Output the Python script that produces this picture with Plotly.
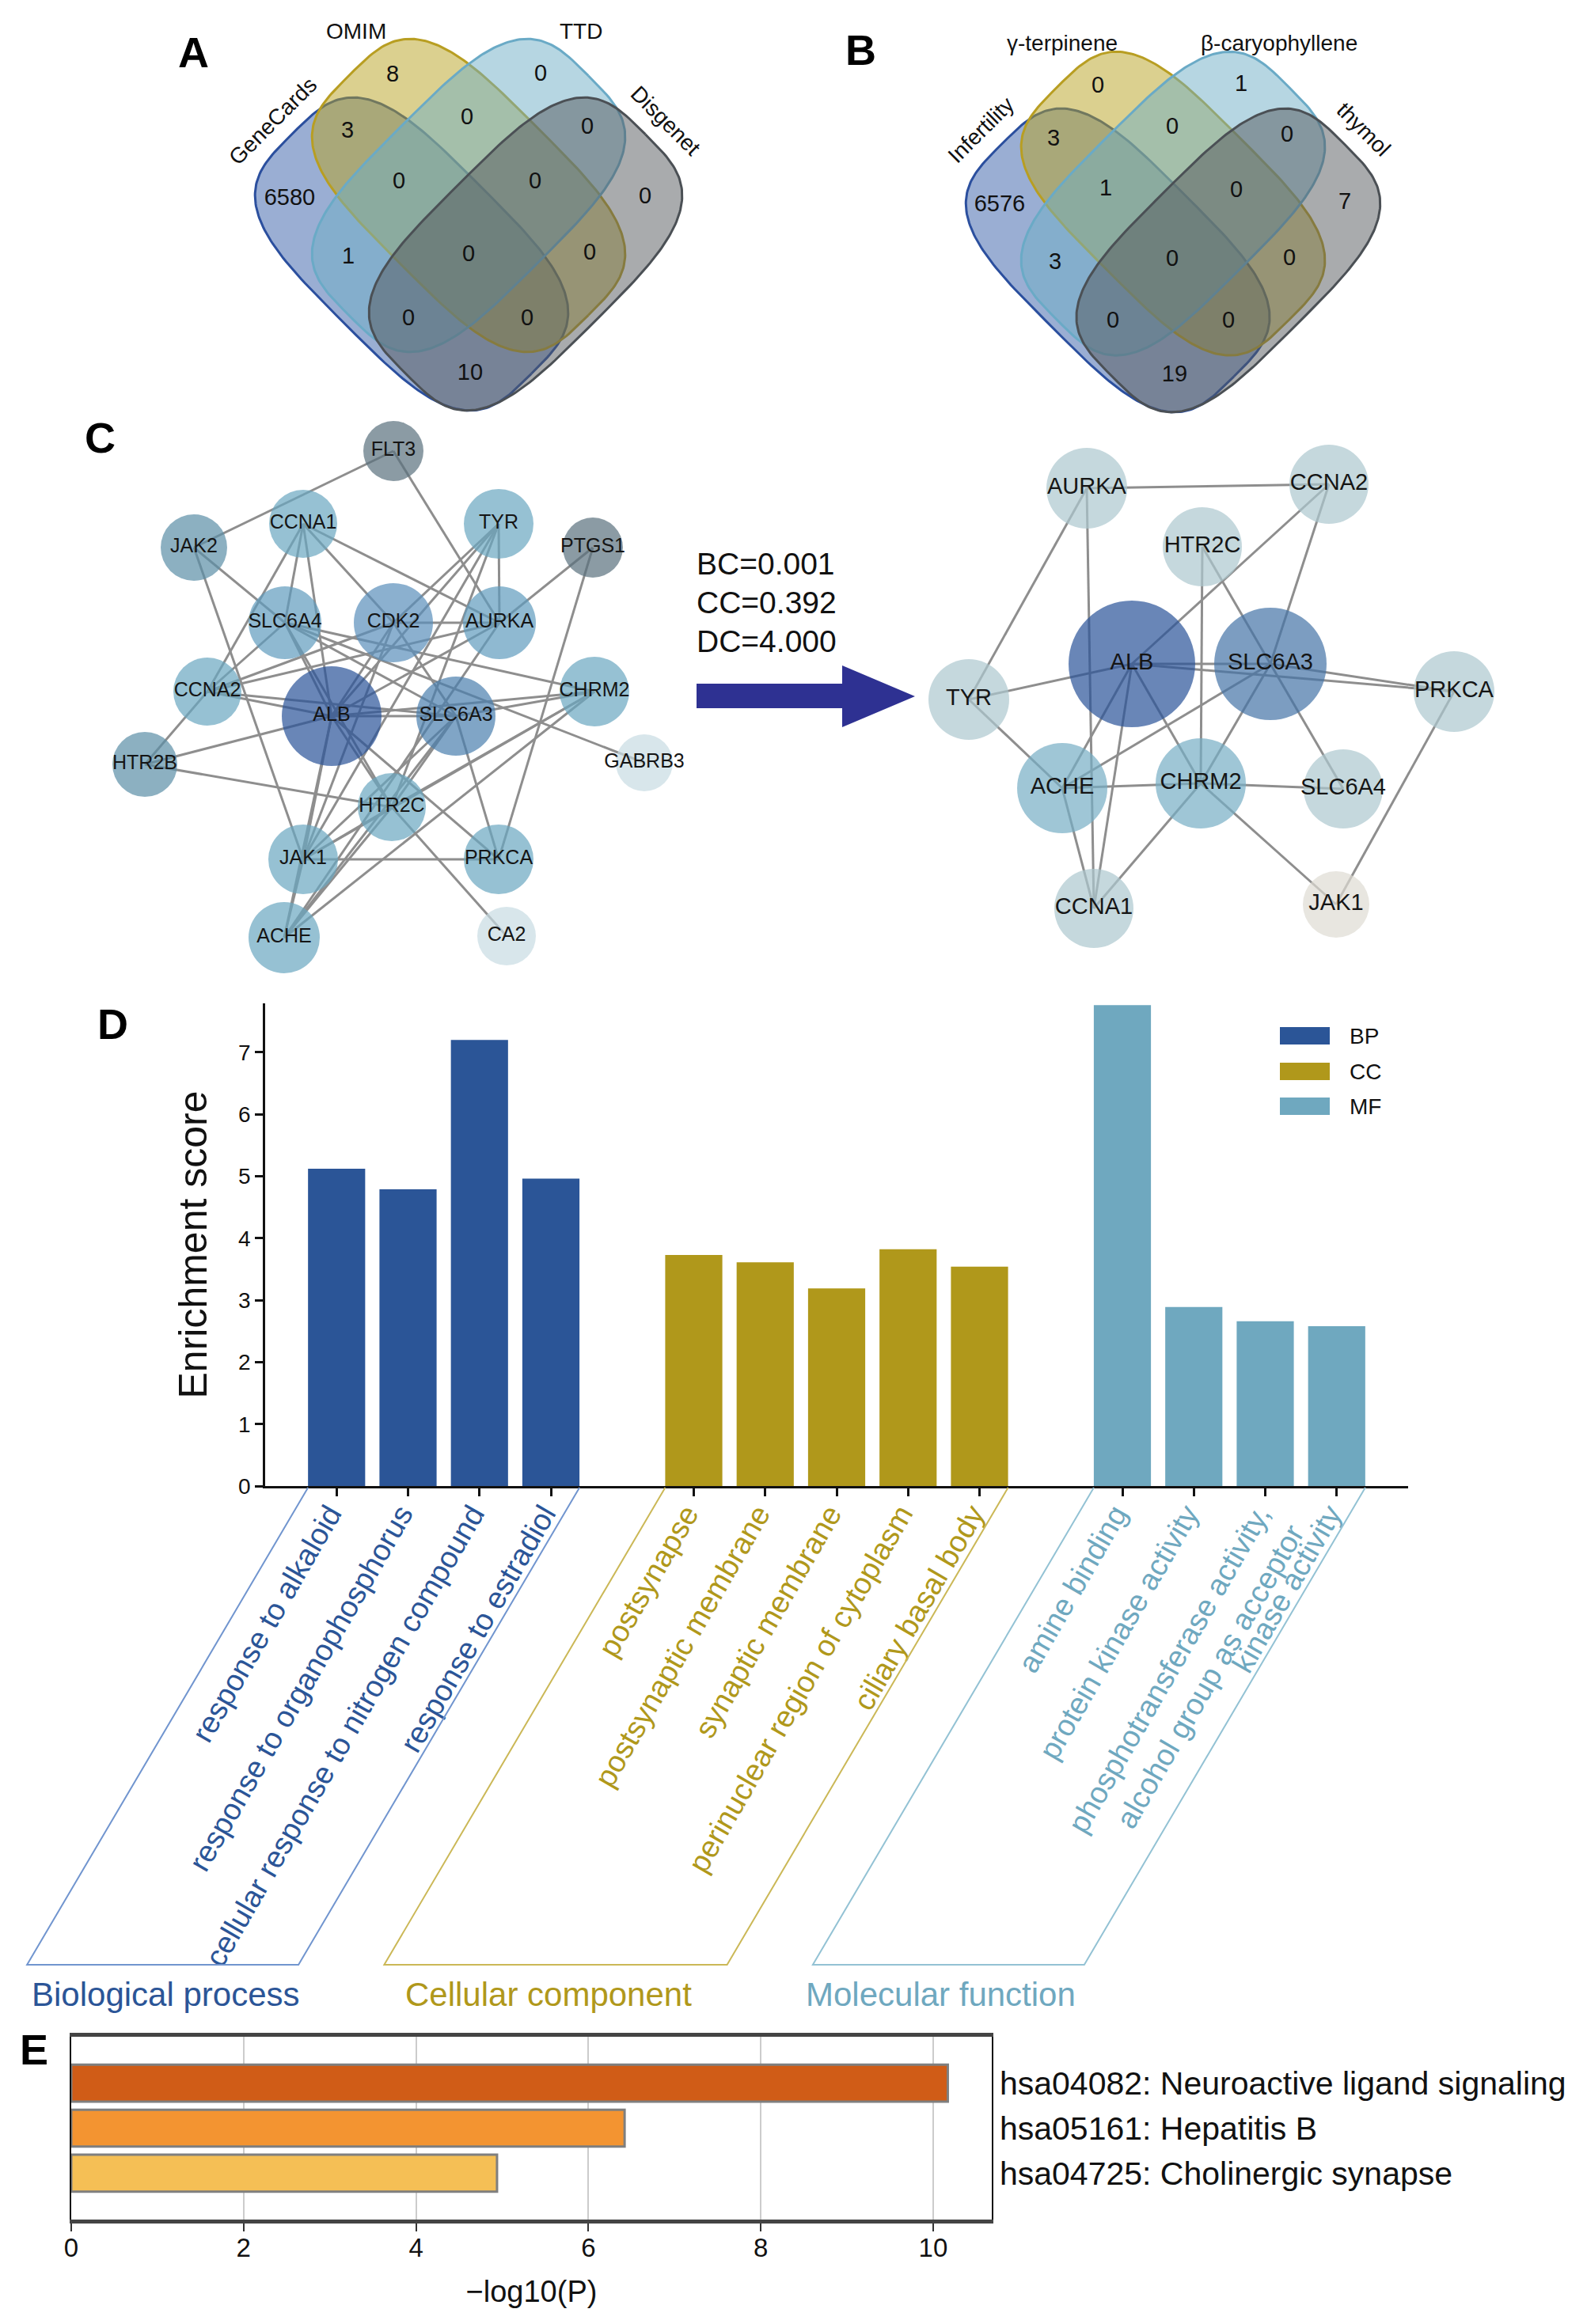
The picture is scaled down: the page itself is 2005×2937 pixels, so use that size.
import numpy as np
import plotly.graph_objects as go

W, H = 2005, 2937
FONT = "Liberation Sans, Arial, Helvetica, sans-serif"

# ======================= DATA =======================
# Panel A / B : Venn diagrams (region counts, same region order for both)
venn_regions = ["2 only", "3 only", "1&2", "2&3", "3&4", "1 only", "1&2&3", "2&3&4",
                "4 only", "1&3", "1&2&3&4", "2&4", "1&3&4", "1&2&4", "1&4"]
venn_a_sets = ["GeneCards", "OMIM", "TTD", "Disgenet"]
venn_a_counts = [8, 0, 3, 0, 0, 6580, 0, 0, 0, 1, 0, 0, 0, 0, 10]
venn_b_sets = ["Infertility", "γ-terpinene", "β-caryophyllene", "thymol"]
venn_b_counts = [0, 1, 3, 0, 0, 6576, 1, 0, 7, 3, 0, 0, 0, 0, 19]

# Panel C : PPI network and core network
ppi_nodes = ["FLT3", "CCNA1", "JAK2", "TYR", "PTGS1", "SLC6A4", "CDK2", "AURKA", "CCNA2",
             "ALB", "SLC6A3", "CHRM2", "HTR2B", "GABRB3", "HTR2C", "JAK1", "PRKCA", "ACHE", "CA2"]
ppi_edges = [("FLT3", "JAK2"), ("FLT3", "AURKA"), ("JAK2", "SLC6A4"), ("JAK2", "JAK1"),
             ("CCNA1", "SLC6A4"), ("CCNA1", "CDK2"), ("CCNA1", "AURKA"), ("CCNA1", "CCNA2"),
             ("CCNA1", "ALB"), ("TYR", "AURKA"), ("TYR", "CDK2"), ("TYR", "ALB"), ("TYR", "HTR2C"),
             ("TYR", "JAK1"), ("PTGS1", "AURKA"), ("PTGS1", "PRKCA"), ("SLC6A4", "CCNA2"),
             ("SLC6A4", "ALB"), ("SLC6A4", "SLC6A3"), ("SLC6A4", "CHRM2"), ("SLC6A4", "GABRB3"),
             ("SLC6A4", "HTR2C"), ("CDK2", "AURKA"), ("CDK2", "CCNA2"), ("CDK2", "ALB"),
             ("CDK2", "JAK1"), ("CDK2", "SLC6A3"), ("AURKA", "CCNA2"), ("AURKA", "ALB"),
             ("AURKA", "ACHE"), ("CCNA2", "ALB"), ("CCNA2", "HTR2B"), ("CCNA2", "SLC6A3"),
             ("ALB", "SLC6A3"), ("ALB", "HTR2B"), ("ALB", "JAK1"), ("ALB", "HTR2C"),
             ("ALB", "PRKCA"), ("ALB", "ACHE"), ("ALB", "CHRM2"), ("SLC6A3", "CHRM2"),
             ("SLC6A3", "PRKCA"), ("SLC6A3", "HTR2C"), ("SLC6A3", "JAK1"), ("SLC6A3", "ACHE"),
             ("CHRM2", "HTR2C"), ("CHRM2", "ACHE"), ("CHRM2", "JAK1"), ("HTR2B", "HTR2C"),
             ("HTR2C", "CA2"), ("HTR2C", "JAK1"), ("HTR2C", "ACHE"), ("JAK1", "PRKCA"),
             ("JAK1", "ACHE")]
core_nodes = ["AURKA", "CCNA2", "HTR2C", "ALB", "SLC6A3", "TYR", "PRKCA", "ACHE", "CHRM2",
              "SLC6A4", "CCNA1", "JAK1"]
core_edges = [("AURKA", "CCNA2"), ("AURKA", "TYR"), ("AURKA", "CCNA1"), ("CCNA2", "ALB"),
              ("CCNA2", "SLC6A3"), ("HTR2C", "CHRM2"), ("HTR2C", "SLC6A3"), ("ALB", "TYR"),
              ("ALB", "SLC6A3"), ("ALB", "CHRM2"), ("ALB", "CCNA1"), ("ALB", "ACHE"),
              ("ALB", "PRKCA"), ("SLC6A3", "PRKCA"), ("SLC6A3", "ACHE"), ("SLC6A3", "CHRM2"),
              ("SLC6A3", "SLC6A4"), ("TYR", "ACHE"), ("ACHE", "CHRM2"), ("CHRM2", "SLC6A4"),
              ("CHRM2", "CCNA1"), ("CHRM2", "JAK1"), ("PRKCA", "JAK1"), ("ACHE", "CCNA1")]
core_metrics = ["BC=0.001", "CC=0.392", "DC=4.000"]

# Panel D : GO enrichment
bp_terms = ["response to alkaloid", "response to organophosphorus",
            "cellular response to nitrogen compound", "response to estradiol"]
bp_scores = [5.12, 4.79, 7.20, 4.96]
cc_terms = ["postsynapse", "postsynaptic membrane", "synaptic membrane",
            "perinuclear region of cytoplasm", "ciliary basal body"]
cc_scores = [3.73, 3.61, 3.19, 3.82, 3.54]
mf_terms = ["amine binding", "protein kinase activity",
            "phosphotransferase activity,|alcohol group as acceptor", "kinase activity"]
mf_scores = [7.76, 2.89, 2.66, 2.58]
go_groups = ["BP", "CC", "MF"]
go_group_names = ["Biological process", "Cellular component", "Molecular function"]
go_ticks = [0, 1, 2, 3, 4, 5, 6, 7]

# Panel E : KEGG
kegg_terms = ["hsa04082: Neuroactive ligand signaling", "hsa05161: Hepatitis B",
              "hsa04725: Cholinergic synapse"]
kegg_scores = [10.17, 6.42, 4.94]
kegg_ticks = [0, 2, 4, 6, 8, 10]

# ======================= LAYOUT (pixel positions / styles) =======================
venn_shape_local = [(-72, -1, 45), (0, -75, 45), (0, -75, -45), (72, -1, -45)]
venn_fill = ["rgba(53,93,167,0.5)", "rgba(183,161,31,0.5)", "rgba(109,173,197,0.5)",
             "rgba(83,87,91,0.5)"]
venn_line = ["#2b4f9e", "#b89e22", "#6aaac6", "#4b5055"]
venn_a_origin, venn_a_scale = (592, 322), 1.0
venn_b_origin, venn_b_scale = (1482, 330), 0.97
venn_a_num_pos = [(496, 96), (683, 95), (439, 167), (590, 150), (742, 162), (366, 252),
                  (504, 231), (676, 231), (815, 250), (440, 326), (592, 323), (745, 321),
                  (516, 404), (666, 404), (594, 473)]
venn_b_num_pos = [(1387, 110), (1568, 108), (1331, 177), (1481, 162), (1626, 172),
                  (1263, 260), (1397, 240), (1562, 242), (1699, 257), (1333, 333),
                  (1481, 329), (1629, 328), (1406, 407), (1552, 407), (1484, 475)]
venn_a_label_pos = [(344, 153, -45), (450, 39, 0), (734, 39, 0), (841, 152, 45)]
venn_b_label_pos = [(1239, 164, -45), (1342, 54, 0), (1616, 54, 0), (1723, 163, 45)]

ppi_x = [497, 383, 245, 630, 749, 360, 497, 631, 262, 419, 576, 751, 183, 814, 495, 383, 630, 359, 640]
ppi_y = [570, 662, 692, 662, 692, 787, 787, 787, 874, 905, 905, 874, 966, 964, 1020, 1086, 1086, 1185, 1183]
ppi_r = [38, 43, 42, 44, 38, 46, 50, 46, 43, 63, 50, 44, 41, 36, 43, 44, 44, 45, 37]
ppi_col = ["#5a707d", "#69a7c1", "#5b8fa6", "#69a7c1", "#5a707d", "#5f9bbd", "#5a8fba",
           "#5f9bbd", "#69a7c1", "#2a5398", "#4a7fae", "#69a7c1", "#5b8fa6", "#c7dbe2",
           "#69a7c1", "#69a7c1", "#69a7c1", "#69a7c1", "#c7dbe2"]
core_x = [1373, 1679, 1519, 1430, 1605, 1224, 1837, 1342, 1517, 1697, 1382, 1688]
core_y = [617, 612, 691, 839, 839, 884, 874, 996, 990, 997, 1148, 1143]
core_r = [51, 50, 50, 80, 71, 51, 51, 57, 57, 50, 50, 42]
core_col = ["#adc8cf", "#adc8cf", "#adc8cf", "#2a5398", "#4573a7", "#adc8cf", "#adc8cf",
            "#76aec4", "#76aec4", "#adc8cf", "#adc8cf", "#dedbd3"]
arrow_poly = [(880, 864), (1064, 864), (1064, 841), (1156, 880), (1064, 919), (1064, 895), (880, 895)]
metric_pos = [(878, 712), (878, 761), (878, 810)]

grp_col = ["#2b5597", "#b0981b", "#6fa8bf"]
grp_line = ["#7195cf", "#cbb857", "#93c2d4"]
bp_x = [1, 2, 3, 4]
cc_x = [6, 7, 8, 9, 10]
mf_x = [12, 13, 14, 15]
D_X0, D_X1, D_Y0, D_Y1 = 335, 1779, 1268, 1878   # pixel box of GO axes
D_XR = [0, 16]
D_YR = [0, 7.79]
E_X0, E_X1, E_Y0, E_Y1 = 90, 1253, 2574, 2805
E_XR = [0, 10.68]
kegg_col = ["#d05c17", "#f39431", "#f5bf55"]


def blob(cx, cy, ang, s=1.0, a=214, b=122, n=3.5, N=240):
    t = np.linspace(0, 2 * np.pi, N)
    c, si = np.cos(t), np.sin(t)
    x = a * np.sign(c) * np.abs(c) ** (2 / n)
    y = b * np.sign(si) * np.abs(si) ** (2 / n)
    th = np.deg2rad(ang)
    return cx + s * (x * np.cos(th) - y * np.sin(th)), cy + s * (x * np.sin(th) + y * np.cos(th))


fig = go.Figure()
ann = []
shapes = []

# ---------------- Venn diagrams ----------------
for origin, sc, counts, npos, sets, lpos in [
        (venn_a_origin, venn_a_scale, venn_a_counts, venn_a_num_pos, venn_a_sets, venn_a_label_pos),
        (venn_b_origin, venn_b_scale, venn_b_counts, venn_b_num_pos, venn_b_sets, venn_b_label_pos)]:
    for k, (dx, dy, ang) in enumerate(venn_shape_local):
        X, Y = blob(origin[0] + sc * dx, origin[1] + sc * dy, ang, sc)
        fig.add_trace(go.Scatter(x=X, y=Y, mode="lines", fill="toself",
                                 fillcolor=venn_fill[k], line=dict(color=venn_line[k], width=3),
                                 hoverinfo="skip", xaxis="x", yaxis="y"))
    fig.add_trace(go.Scatter(x=[p[0] for p in npos], y=[p[1] for p in npos], mode="text",
                             text=[str(v) for v in counts],
                             textfont=dict(family=FONT, size=29, color="#111111"),
                             hoverinfo="skip", xaxis="x", yaxis="y"))
    for name, (lx, ly, la) in zip(sets, lpos):
        ann.append(dict(x=lx, y=ly, xref="x", yref="y", text=name, showarrow=False,
                        textangle=la, font=dict(family=FONT, size=28, color="#111111"),
                        xanchor="center", yanchor="middle"))

# ---------------- Networks ----------------
def add_network(nodes, edges, xs, ys, rs, cols, fsize):
    idx = {n: i for i, n in enumerate(nodes)}
    ex, ey = [], []
    for a, b in edges:
        ex += [xs[idx[a]], xs[idx[b]], None]
        ey += [ys[idx[a]], ys[idx[b]], None]
    fig.add_trace(go.Scatter(x=ex, y=ey, mode="lines", line=dict(color="#8e8e8e", width=3),
                             hoverinfo="skip", xaxis="x", yaxis="y"))
    fig.add_trace(go.Scatter(x=xs, y=ys, mode="markers+text", text=nodes,
                             textposition="middle center",
                             textfont=dict(family=FONT, size=fsize, color="#151515"),
                             marker=dict(size=[2 * r for r in rs], color=cols,
                                         line=dict(width=0)),
                             hoverinfo="skip", xaxis="x", yaxis="y"))


add_network(ppi_nodes, ppi_edges, ppi_x, ppi_y, ppi_r, ppi_col, 25)
add_network(core_nodes, core_edges, core_x, core_y, core_r, core_col, 29)

path = "M " + " L ".join(f"{x},{y}" for x, y in arrow_poly) + " Z"
shapes.append(dict(type="path", path=path, xref="x", yref="y", fillcolor="#2e3192",
                   line=dict(width=0)))
for txt, (mx, my) in zip(core_metrics, metric_pos):
    ann.append(dict(x=mx, y=my, xref="x", yref="y", text=txt, showarrow=False,
                    font=dict(family=FONT, size=39, color="#111111"),
                    xanchor="left", yanchor="middle"))

# ---------------- Panel D : GO bars ----------------
for name, xs, ys, col in zip(go_groups, [bp_x, cc_x, mf_x], [bp_scores, cc_scores, mf_scores], grp_col):
    fig.add_trace(go.Bar(x=xs, y=ys, width=0.8, marker=dict(color=col, line=dict(width=0)),
                         name=name, xaxis="x2", yaxis="y2", hoverinfo="skip"))

tickvals, ticktext = [], []
for xs, terms, col in zip([bp_x, cc_x, mf_x], [bp_terms, cc_terms, mf_terms], grp_col):
    for xv, t in zip(xs, terms):
        tickvals.append(xv)
        ticktext.append("<br>".join(f"<span style='color:{col}'>{part}</span>" for part in t.split("|")))


def dpx(v):
    return D_X0 + (v - D_XR[0]) / (D_XR[1] - D_XR[0]) * (D_X1 - D_X0)


par_top, par_bot, par_shift = 1880, 2483, -355
group_label_x = [38, 510, 1016]
for xs, lc, tc, gname, glx in zip([bp_x, cc_x, mf_x], grp_line, grp_col, go_group_names, group_label_x):
    xl, xr = dpx(xs[0] - 0.4), dpx(xs[-1] + 0.4)
    p = f"M {xl},{par_top} L {xl + par_shift},{par_bot} L {xr + par_shift},{par_bot} L {xr},{par_top}"
    shapes.append(dict(type="path", path=p, xref="x", yref="y", line=dict(color=lc, width=2)))
    ann.append(dict(x=glx, y=2520, xref="x", yref="y", text=gname, showarrow=False,
                    font=dict(family=FONT, size=42, color=tc), xanchor="left", yanchor="middle"))

# legend for D
leg_y = [1309, 1354, 1398]
for name, col, ly in zip(go_groups, grp_col, leg_y):
    shapes.append(dict(type="rect", x0=1617, x1=1680, y0=ly - 11, y1=ly + 11, xref="x", yref="y",
                       fillcolor=col, line=dict(width=0)))
    ann.append(dict(x=1703, y=ly, xref="x", yref="y", text=name, showarrow=False,
                    font=dict(family=FONT, size=28, color="#111111"), xanchor="left", yanchor="middle"))

# ---------------- Panel E : KEGG ----------------
fig.add_trace(go.Bar(x=kegg_scores, y=list(range(len(kegg_terms))), orientation="h", width=0.82,
                     marker=dict(color=kegg_col, line=dict(color="#7f7f7f", width=3)),
                     xaxis="x3", yaxis="y3", hoverinfo="skip"))

# panel letters
for letter, (lx, ly) in zip(["A", "B", "C", "D", "E"],
                            [(244, 66), (1087, 63), (126, 553), (142, 1294), (43, 2590)]):
    ann.append(dict(x=lx, y=ly, xref="x", yref="y", text=f"<b>{letter}</b>", showarrow=False,
                    font=dict(family=FONT, size=54, color="#000000"), xanchor="center", yanchor="middle"))

fig.update_layout(
    template="none",
    width=W, height=H, margin=dict(l=0, r=0, t=0, b=0, pad=0), autosize=False,
    paper_bgcolor="white", plot_bgcolor="rgba(0,0,0,0)", showlegend=False,
    font=dict(family=FONT),
    xaxis=dict(domain=[0, 1], range=[0, W], visible=False, fixedrange=True, automargin=False),
    yaxis=dict(domain=[0, 1], range=[H, 0], visible=False, fixedrange=True, automargin=False),
    xaxis2=dict(domain=[D_X0 / W, D_X1 / W], range=D_XR, anchor="y2", automargin=False,
                tickvals=tickvals, ticktext=ticktext, tickangle=-60,
                ticklabelstandoff=-15, ticklabelshift=-9,
                tickfont=dict(family=FONT, size=38), ticks="outside", ticklen=10, tickwidth=2.5,
                tickcolor="#111111", showline=True, linecolor="#111111", linewidth=3,
                showgrid=False, zeroline=False),
    yaxis2=dict(domain=[1 - D_Y1 / H, 1 - D_Y0 / H], range=D_YR, anchor="x2", automargin=False,
                tickvals=go_ticks, tickfont=dict(family=FONT, size=28, color="#111111"),
                ticks="outside", ticklen=10, tickwidth=2.5, tickcolor="#111111",
                showline=True, linecolor="#111111", linewidth=2.5, showgrid=False, zeroline=False,
                title=dict(text="Enrichment score", font=dict(family=FONT, size=50, color="#111111"),
                           standoff=24)),
    xaxis3=dict(domain=[E_X0 / W, E_X1 / W], range=E_XR, anchor="y3", automargin=False,
                tickvals=kegg_ticks, tickfont=dict(family=FONT, size=33, color="#111111"),
                ticks="outside", ticklen=10, tickwidth=2, tickcolor="#333333",
                ticklabelstandoff=-8,
                showline=True, linecolor="#444444", linewidth=5, mirror=True,
                showgrid=True, gridcolor="#cccccc", gridwidth=2, zeroline=False,
                title=dict(text="−log10(P)", font=dict(family=FONT, size=38, color="#111111"),
                           standoff=26)),
    yaxis3=dict(domain=[1 - E_Y1 / H, 1 - E_Y0 / H], range=[len(kegg_terms) + 0.03, -1.03],
                anchor="x3", side="right", tickvals=list(range(len(kegg_terms))), automargin=False,
                ticktext=kegg_terms, tickfont=dict(family=FONT, size=41, color="#111111"),
                ticks="", showline=True, linecolor="#111111", linewidth=1.5, mirror=True,
                showgrid=False, zeroline=False),
    annotations=ann, shapes=shapes,
)

fig.write_html("out.html", config={"displayModeBar": False},
               post_script="document.body.style.margin='0px';")
